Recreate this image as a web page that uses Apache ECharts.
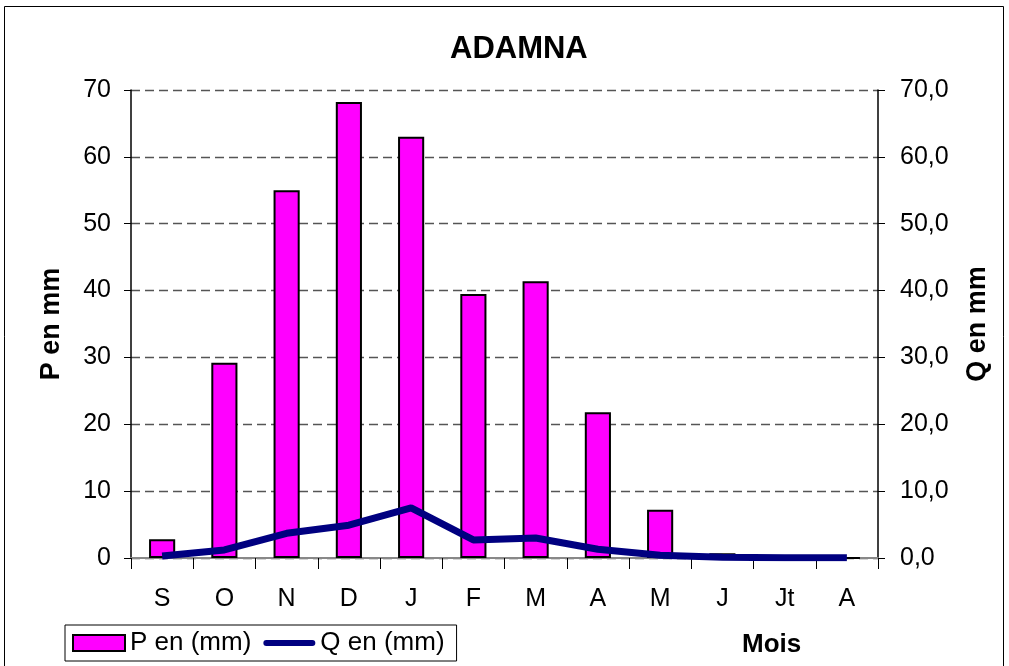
<!DOCTYPE html>
<html><head><meta charset="utf-8">
<script src="https://cdn.jsdelivr.net/npm/echarts@6/dist/echarts.min.js"></script>
<style>html,body{margin:0;padding:0;background:#fff}#c{width:1009px;height:666px}</style>
</head><body><div id="c"></div>
<script>
const months = ['S','O','N','D','J','F','M','A','M','J','Jt','A'];
const pValues = [2.8, 29.2, 55.0, 68.2, 63.0, 39.5, 41.4, 21.8, 7.2, 0.7, 0, 0];
const qValues = [0.3, 1.2, 3.7, 4.9, 7.5, 2.7, 3.0, 1.3, 0.4, 0.1, 0.05, 0.03];
const leftTicks = [0,10,20,30,40,50,60,70];

const F = '"Liberation Sans", Arial, sans-serif';
const lineIcon = 'path://M0,0h0.01v0.01h-0.01z M0,16h0.01v-0.01h-0.01z M3,5 H49 A3,3 0 0 1 49,11 H3 A3,3 0 0 1 3,5 Z';
const chart = echarts.init(document.getElementById('c'));
chart.setOption({
  animation: false,
  backgroundColor: '#fff',
  title: { text: 'ADAMNA', left: 445, top: 29, textStyle: { fontFamily: F, fontSize: 31, fontWeight: 'bold', color: '#000' } },
  graphic: [
    { type: 'rect', shape: { x: 4.5, y: 6.5, width: 999, height: 700 }, style: { fill: 'none', stroke: '#000', lineWidth: 1 }, silent: true },
    { type: 'text', left: 742, top: 632, style: { text: 'Mois', font: 'bold 26px ' + F, fill: '#000' } }
  ],
  legend: {
    left: 65, top: 625,
    itemWidth: 52, itemHeight: 16, itemGap: 12,
    padding: [5, 12, 5, 7],
    borderColor: '#000', borderWidth: 1, backgroundColor: '#fff',
    textStyle: { fontFamily: F, fontSize: 26, color: '#000' },
    data: [
      { name: 'P en (mm)', icon: 'rect', itemStyle: { color: '#ff00ff', borderColor: '#000', borderWidth: 2 } },
      { name: 'Q en (mm)', icon: lineIcon, itemStyle: { color: '#000080', borderWidth: 0 } }
    ]
  },
  grid: { left: 131, right: 131, top: 90, bottom: 108 },
  xAxis: [
    { type: 'category', data: months, boundaryGap: true,
      axisLine: { show: true, lineStyle: { color: '#000', width: 1.5 } },
      axisTick: { show: true, length: 11, interval: 0, lineStyle: { color: '#000' } },
      axisLabel: { fontFamily: F, fontSize: 25, color: '#000', margin: 29, interval: 0 } },
    { type: 'category', data: months, position: 'top',
      axisLine: { show: true, lineStyle: { color: '#888', width: 2 } },
      axisTick: { show: false }, axisLabel: { show: false } }
  ],
  yAxis: [
    { type: 'value', min: 0, max: 70, interval: 10, position: 'left',
      name: 'P en mm', nameLocation: 'middle', nameGap: 66, nameRotate: 90,
      nameTextStyle: { fontFamily: F, fontSize: 27, fontWeight: 'bold', color: '#000' },
      axisLine: { show: true, lineStyle: { color: '#000', width: 1.5 } },
      axisTick: { show: true, length: 7, lineStyle: { color: '#000' } },
      axisLabel: { fontFamily: F, fontSize: 25, color: '#000', margin: 20,
        formatter: v => leftTicks.includes(v) ? String(v) : '' },
      splitLine: { show: true, lineStyle: { color: '#555', type: [9, 5], width: 1.3 } } },
    { type: 'value', min: 0, max: 70, interval: 10, position: 'right',
      name: 'Q en mm', nameLocation: 'middle', nameGap: 86, nameRotate: 90,
      nameTextStyle: { fontFamily: F, fontSize: 27, fontWeight: 'bold', color: '#000' },
      axisLine: { show: true, lineStyle: { color: '#000', width: 1.5 } },
      axisTick: { show: true, length: 7, lineStyle: { color: '#000' } },
      axisLabel: { fontFamily: F, fontSize: 25, color: '#000', margin: 22,
        formatter: v => v.toFixed(1).replace('.', ',') },
      splitLine: { show: false } }
  ],
  series: [
    { name: 'P en (mm)', type: 'bar', data: pValues, barWidth: '42%', yAxisIndex: 0,
      itemStyle: { color: '#ff00ff', borderColor: '#000', borderWidth: 2 } },
    { name: 'Q en (mm)', type: 'line', data: qValues, yAxisIndex: 1, symbol: 'none',
      lineStyle: { color: '#000080', width: 7 }, itemStyle: { color: '#000080' } }
  ]
});
</script></body></html>
